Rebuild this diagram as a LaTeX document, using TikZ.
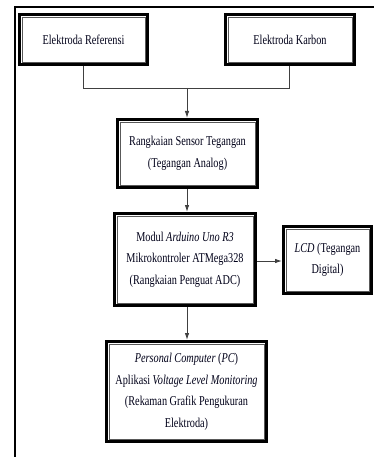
\documentclass[tikz,border=0pt]{standalone}
\usepackage{fontspec}
\setmainfont[FakeStretch=0.76]{Liberation Serif}
\usetikzlibrary{arrows.meta}
\tikzset{
  boxo/.style={draw=black, line width=3pt, fill=white, align=center, inner sep=2pt,
    font=\fontsize{13.5}{21.5}\selectfont, text=black!90!blue},
  boxi/.style={draw=black!65, line width=0.9pt},
  conn/.style={draw=black!75, line width=0.9pt},
  arr/.style={conn, -{Latex[length=7pt,width=4.5pt]}},
  frame/.style={draw=black, line width=2pt}
}
\newcommand\mybox[6]{%
  \node[boxo, minimum width=#4pt, minimum height=#5pt] (#1) at (#2,#3) {#6};
  \draw[boxi] ([shift={(4pt,-4pt)}]#1.north west) rectangle ([shift={(-4pt,4pt)}]#1.south east);}
\begin{document}
\begin{tikzpicture}[x=1pt,y=-1pt]
\useasboundingbox (0,0) rectangle (374,457);
\draw[frame] (15,458) -- (15,7.5) -- (375,7.5);
\mybox{ref}{83.5}{39.5}{128}{50}{Elektroda Referensi}
\mybox{kar}{290}{39.5}{129}{50}{Elektroda Karbon}
\mybox{sens}{187.5}{153.5}{140}{68}{Rangkaian Sensor Tegangan\\(Tegangan Analog)}
\mybox{mod}{185}{259.5}{141}{92}{Modul \textit{Arduino Uno R3}\\Mikrokontroler ATMega328\\(Rangkaian Penguat ADC)}
\mybox{lcd}{327.5}{260}{88}{67}{\textit{LCD} (Tegangan\\Digital)}
\mybox{pc}{186.5}{391.5}{160}{100}{\textit{Personal Computer} (\textit{PC})\\Aplikasi \textit{Voltage Level Monitoring}\\(Rekaman Grafik Pengukuran\\Elektroda)}
\coordinate (jl) at (83,88);
\coordinate (jr) at (289,88);
\coordinate (jm) at (187,88);
\draw[conn] (ref.south -| jl) -- (jl) -- (jr) -- (kar.south -| jr);
\draw[arr] (jm) -- (sens.north -| jm);
\draw[arr] (sens.south -| jm) -- (mod.north -| jm);
\draw[arr] (mod.east |- 0,261) -- (lcd.west |- 0,261);
\draw[arr] (mod.south -| jm) -- (pc.north -| jm);
\end{tikzpicture}
\end{document}
